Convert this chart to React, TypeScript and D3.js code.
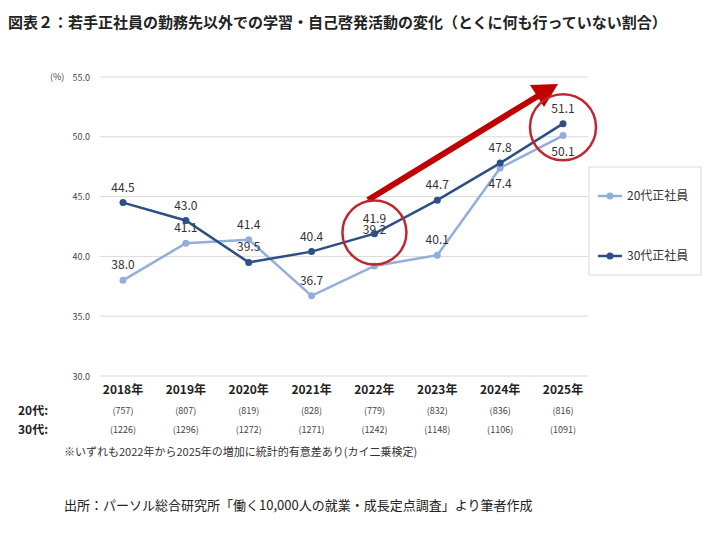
import * as d3 from "d3"

const years = ["2018年", "2019年", "2020年", "2021年", "2022年", "2023年", "2024年", "2025年"]
const s20 = [38.0, 41.1, 41.4, 36.7, 39.2, 40.1, 47.4, 50.1]
const s30 = [44.5, 43.0, 39.5, 40.4, 41.9, 44.7, 47.8, 51.1]
const n20 = [757, 807, 819, 828, 779, 832, 836, 816]
const n30 = [1226, 1296, 1272, 1271, 1242, 1148, 1106, 1091]
const yTicks = [30, 35, 40, 45, 50, 55]

const c20 = "#92aedb"
const c30 = "#2d4f86"
const font = "'Noto Sans CJK JP', 'Noto Sans', sans-serif"

// label offset (px) from point to text baseline, per series
const off20 = [-11, -11, -11, -11, -32, -11, 20, 20]
const off30 = [-11, -11, -11, -11, -11, -11, -11, -11]

export default function App() {
  const x = d3.scalePoint<string>().domain(years).range([123, 563])
  const y = d3.scaleLinear().domain([30, 55]).range([376, 77])
  const line = d3.line<number>().x((_, i) => x(years[i])!).y(d => y(d))
  return (
    <svg width={726} height={538} style={{ position: "absolute", left: 0, top: 0, fontFamily: font }}>
      <rect width={726} height={538} fill="#fff" />
      <text x={8} y={28} fontSize={15} fontWeight="bold" fill="#222">
        図表２：若手正社員の勤務先以外での学習・自己啓発活動の変化（とくに何も行っていない割合）
      </text>
      <text x={50} y={80} fontSize={9} fill="#444">(%)</text>
      {yTicks.map(t => (
        <g key={t}>
          <line x1={100} x2={588} y1={y(t)} y2={y(t)} stroke="#d9d9d9" />
          <text x={90} y={y(t) + 3.5} fontSize={9} textAnchor="end" fill="#444">{t.toFixed(1)}</text>
        </g>
      ))}
      {years.map((yr, i) => (
        <g key={yr} fontSize={12} textAnchor="middle">
          <text x={x(yr)} y={394} fontWeight="bold" fill="#222">{yr}</text>
          <text x={x(yr)} y={414} fontSize={9} fill="#444">({n20[i]})</text>
          <text x={x(yr)} y={433} fontSize={9} fill="#444">({n30[i]})</text>
        </g>
      ))}
      <text x={18} y={415} fontSize={12} fontWeight="bold" fill="#222">20代:</text>
      <text x={18} y={434} fontSize={12} fontWeight="bold" fill="#222">30代:</text>
      <text x={64} y={456} fontSize={11} fill="#333">※いずれも2022年から2025年の増加に統計的有意差あり(カイ二乗検定)</text>
      <text x={64} y={510} fontSize={13} fill="#222">出所：パーソル総合研究所「働く10,000人の就業・成長定点調査」より筆者作成</text>

      <path d={line(s20)!} fill="none" stroke={c20} strokeWidth={2.5} />
      <path d={line(s30)!} fill="none" stroke={c30} strokeWidth={2.5} />
      {s20.map((v, i) => (
        <g key={"a" + i}>
          <circle cx={x(years[i])} cy={y(v)} r={3.5} fill={c20} />
          <text x={x(years[i])} y={y(v) + off20[i]} fontSize={12} textAnchor="middle" fill="#333">{v.toFixed(1)}</text>
        </g>
      ))}
      {s30.map((v, i) => (
        <g key={"b" + i}>
          <circle cx={x(years[i])} cy={y(v)} r={3.5} fill={c30} />
          <text x={x(years[i])} y={y(v) + off30[i]} fontSize={12} textAnchor="middle" fill="#333">{v.toFixed(1)}</text>
        </g>
      ))}

      <line x1={368} y1={200} x2={538} y2={96} stroke="#c00000" strokeWidth={6} />
      <path d="M558,84 L530,85 L544,107 Z" fill="#c00000" />
      <circle cx={x("2022年")} cy={y(42.0)} r={32} fill="none" stroke="#c0272d" strokeWidth={2.5} />
      <circle cx={x("2025年")} cy={y(50.8)} r={33} fill="none" stroke="#c0272d" strokeWidth={2.5} />

      <rect x={589} y={167} width={112} height={108} fill="#fff" stroke="#d9d9d9" />
      <line x1={598} x2={622} y1={196} y2={196} stroke={c20} strokeWidth={2.5} />
      <circle cx={610} cy={196} r={3.5} fill={c20} />
      <text x={627} y={200} fontSize={12} fill="#333">20代正社員</text>
      <line x1={598} x2={622} y1={256} y2={256} stroke={c30} strokeWidth={2.5} />
      <circle cx={610} cy={256} r={3.5} fill={c30} />
      <text x={627} y={260} fontSize={12} fill="#333">30代正社員</text>
    </svg>
  )
}
